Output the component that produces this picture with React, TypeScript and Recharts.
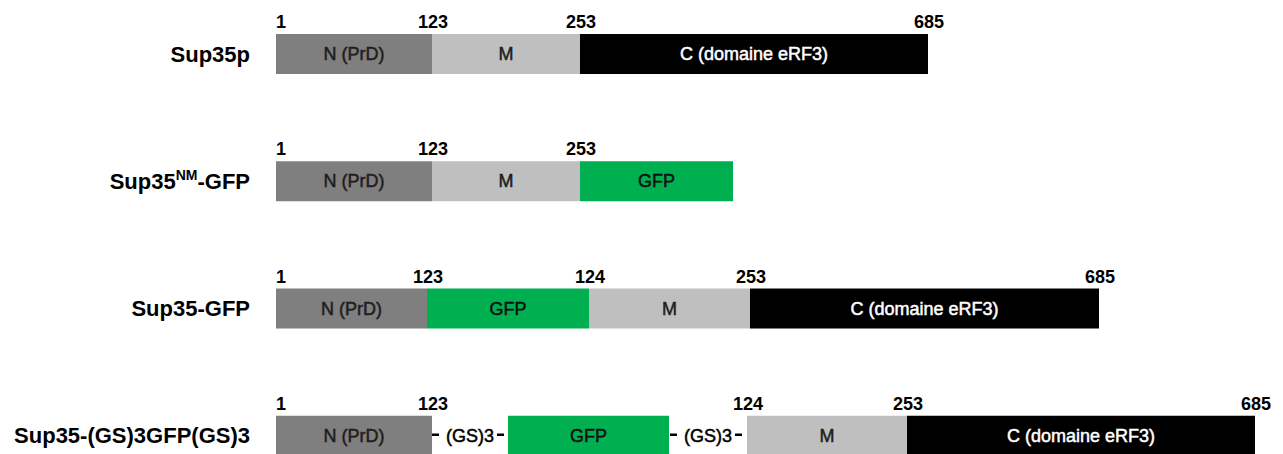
import React from 'react';
import { BarChart, Bar, XAxis, YAxis } from 'recharts';

// ---- data ----
const constructPrefix = ['Sup35p', 'Sup35', 'Sup35-GFP', 'Sup35-(GS)3GFP(GS)3'];
const constructSup = ['', 'NM', '', ''];
const constructSuffix = ['', '-GFP', '', ''];

// schematic (not to scale) segment lengths, as drawn
const sup35pDomains = ['N', 'M', 'C'];
const sup35pWidths = [156, 148, 348];
const sup35pPositions = ['1', '123', '253', '685'];

const nmGfpDomains = ['N', 'M', 'GFP'];
const nmGfpWidths = [156, 148, 153];
const nmGfpPositions = ['1', '123', '253', ''];

const gfpDomains = ['N', 'GFP', 'M', 'C'];
const gfpWidths = [151, 162, 161, 349];
const gfpPositions = ['1', '123', '124', '253', '685'];

const gsDomains = ['N', 'GS', 'GFP', 'GS', 'M', 'C'];
const gsWidths = [156, 76, 161, 78, 160, 348];
const gsPositions = ['1', '123', '', '', '124', '253', '685'];

const domainNames: Record<string, string> = {
  N: 'N (PrD)',
  M: 'M',
  C: 'C (domaine eRF3)',
  GFP: 'GFP',
  GS: '(GS)3',
};
const domainColors: Record<string, string> = {
  N: '#7f7f7f',
  M: '#bfbfbf',
  C: '#000000',
  GFP: '#00b050',
  GS: 'none',
};
const domainTextColors: Record<string, string> = {
  N: '#1e1e1e',
  M: '#1e1e1e',
  C: '#ffffff',
  GFP: '#111111',
  GS: '#000000',
};

const rowDomains = [sup35pDomains, nmGfpDomains, gfpDomains, gsDomains];
const rowWidths = [sup35pWidths, nmGfpWidths, gfpWidths, gsWidths];
const rowPositions = [sup35pPositions, nmGfpPositions, gfpPositions, gsPositions];

const slots = [0, 1, 2, 3, 4, 5];

const data = constructPrefix.map((name, i) => {
  const o: any = { name, row: i };
  rowWidths[i].forEach((w, j) => {
    o['s' + j] = w;
  });
  return o;
});

const FONT = "'Liberation Sans', Arial, sans-serif";

const RowTick = (props: any) => {
  const { y, payload } = props;
  const i = constructPrefix.indexOf(payload.value);
  if (i < 0) return <g />;
  return (
    <text
      x={250}
      y={y + 8}
      textAnchor="end"
      fontFamily={FONT}
      fontWeight="bold"
      fontSize={22}
      fill="#000"
    >
      <tspan>{constructPrefix[i]}</tspan>
      {constructSup[i] ? (
        <tspan fontSize={14} dy={-9}>
          {constructSup[i]}
        </tspan>
      ) : null}
      {constructSuffix[i] ? <tspan dy={9}>{constructSuffix[i]}</tspan> : null}
    </text>
  );
};

const makeShape = (j: number) => (props: any) => {
  const { x, y, width, height, index } = props;
  const dom = rowDomains[index] ? rowDomains[index][j] : undefined;
  if (!dom || !(width > 0)) return <g />;
  const pos = rowPositions[index];
  const cy = y + height / 2;
  const cx = x + width / 2;
  const numY = y - 6;
  const tc = domainTextColors[dom];
  return (
    <g>
      {dom !== 'GS' ? (
        <rect x={x} y={y} width={width} height={height} fill={domainColors[dom]} />
      ) : (
        <g>
          <line x1={cx - 38} x2={cx - 31} y1={cy - 1} y2={cy - 1} stroke="#000" strokeWidth={2.5} />
          <line x1={cx + 27} x2={cx + 34} y1={cy - 1} y2={cy - 1} stroke="#000" strokeWidth={2.5} />
        </g>
      )}
      <text
        x={cx}
        y={cy + 6}
        textAnchor="middle"
        fontFamily={FONT}
        fontSize={18}
        fill={tc}
        stroke={tc}
        strokeWidth={0.5}
      >
        {domainNames[dom]}
      </text>
      {j === 0 && pos[0] ? (
        <text x={x} y={numY} textAnchor="start" fontFamily={FONT} fontWeight="bold" fontSize={18} fill="#000">
          {pos[0]}
        </text>
      ) : null}
      {pos[j + 1] ? (
        <text
          x={x + width + 1}
          y={numY}
          textAnchor="middle"
          fontFamily={FONT}
          fontWeight="bold"
          fontSize={18}
          fill="#000"
        >
          {pos[j + 1]}
        </text>
      ) : null}
    </g>
  );
};

export default function App() {
  return (
    <div style={{ position: 'absolute', left: 0, top: -10.5, width: 1283, height: 509 }}>
      <BarChart
        width={1283}
        height={509}
        data={data}
        layout="vertical"
        margin={{ top: 0, right: 0, bottom: 0, left: 0 }}
        barCategoryGap={0}
      >
        <XAxis type="number" domain={[0, 1007]} hide allowDataOverflow />
        <YAxis
          type="category"
          dataKey="name"
          width={276}
          axisLine={false}
          tickLine={false}
          tick={<RowTick />}
          interval={0}
        />
        {slots.map((j) => (
          <Bar
            key={j}
            dataKey={'s' + j}
            stackId="a"
            barSize={40}
            isAnimationActive={false}
            shape={makeShape(j)}
          />
        ))}
      </BarChart>
    </div>
  );
}
